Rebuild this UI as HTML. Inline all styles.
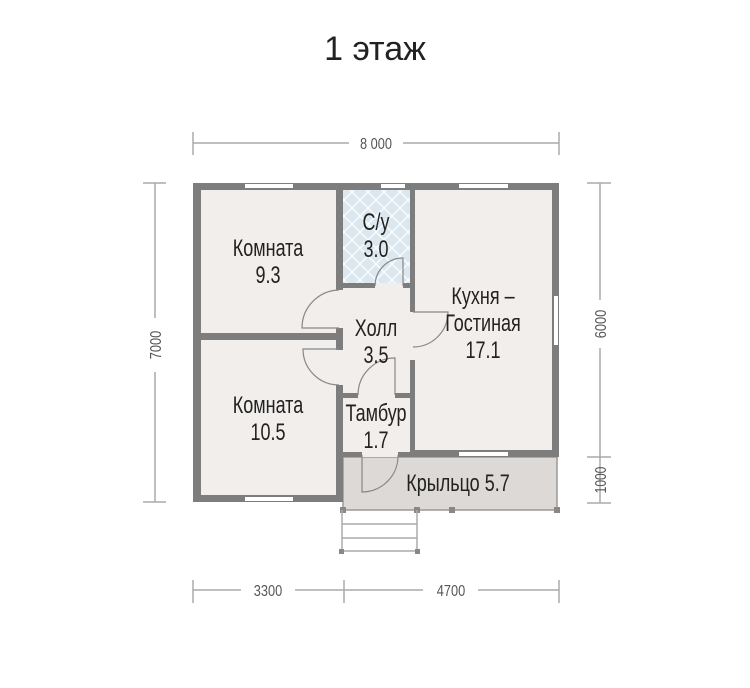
<!DOCTYPE html>
<html><head><meta charset="utf-8"><style>
html,body{margin:0;padding:0;background:#fff;}
svg{display:block}
text{font-family:"Liberation Sans",sans-serif;}
</style></head><body>
<svg width="750" height="688" viewBox="0 0 750 688" xmlns="http://www.w3.org/2000/svg">
<defs>
<pattern id="tile" width="16" height="16" patternUnits="userSpaceOnUse">
<rect width="16" height="16" fill="#dce8f0"/>
<path d="M0 0L16 16M16 0L0 16" stroke="#fff" stroke-width="1.2"/>
</pattern>
</defs>
<text x="375" y="60" font-size="34" text-anchor="middle" fill="#222">1 этаж</text>

<!-- dimensions -->
<g stroke="#aaa" stroke-width="1.5" fill="none">
<line x1="193" y1="143" x2="349" y2="143"/><line x1="403" y1="143" x2="559" y2="143"/>
<line x1="193" y1="132" x2="193" y2="155"/><line x1="559" y1="132" x2="559" y2="155"/>
<line x1="155" y1="183" x2="155" y2="318"/><line x1="155" y1="372" x2="155" y2="502"/>
<line x1="143" y1="183" x2="166" y2="183"/><line x1="143" y1="502" x2="166" y2="502"/>
<line x1="600" y1="183" x2="600" y2="300"/><line x1="600" y1="348" x2="600" y2="503"/>
<line x1="587" y1="183" x2="611" y2="183"/><line x1="587" y1="457" x2="611" y2="457"/><line x1="587" y1="503" x2="611" y2="503"/>
<line x1="193" y1="590" x2="241" y2="590"/><line x1="295" y1="590" x2="423" y2="590"/><line x1="478" y1="590" x2="559" y2="590"/>
<line x1="193" y1="580" x2="193" y2="603"/><line x1="344" y1="580" x2="344" y2="603"/><line x1="559" y1="580" x2="559" y2="603"/>
</g>
<g font-size="16" fill="#555" text-anchor="middle">
<g transform="translate(376,149) scale(0.8,1)"><text>8 000</text></g>
<g transform="translate(268,596) scale(0.8,1)"><text>3300</text></g>
<g transform="translate(451,596) scale(0.8,1)"><text>4700</text></g>
<g transform="translate(161,345) rotate(-90) scale(0.8,1)"><text>7000</text></g>
<g transform="translate(606,324) rotate(-90) scale(0.8,1)"><text>6000</text></g>
<g transform="translate(606,480) rotate(-90) scale(0.75,1)"><text>1000</text></g>
</g>

<!-- porch -->
<rect x="343" y="457" width="214" height="53" fill="#dcd9d6" stroke="#999" stroke-width="1.5"/>
<g fill="#888"><rect x="340" y="507" width="6" height="6"/><rect x="414" y="507" width="6" height="6"/><rect x="449" y="507" width="6" height="6"/><rect x="554" y="507" width="6" height="6"/></g>
<g stroke="#aaa" stroke-width="1.5"><line x1="342" y1="510" x2="342" y2="552"/><line x1="417" y1="510" x2="417" y2="552"/>
<line x1="342" y1="524" x2="417" y2="524"/><line x1="342" y1="538" x2="417" y2="538"/><line x1="342" y1="551" x2="417" y2="551"/></g>
<g fill="#888"><rect x="339" y="549" width="5" height="5"/><rect x="415" y="549" width="5" height="5"/></g>

<!-- room fills -->
<rect x="193" y="183" width="366" height="274" fill="#f1eeec"/>
<rect x="193" y="183" width="150" height="319" fill="#f1eeec"/>
<rect x="343" y="190" width="67" height="93" fill="url(#tile)"/>

<!-- walls -->
<g fill="#7d7d7d">
<rect x="193" y="183" width="366" height="7"/>
<rect x="193" y="183" width="8" height="319"/>
<rect x="552" y="183" width="7" height="274"/>
<rect x="193" y="495" width="150" height="7"/>
<rect x="336" y="183" width="7" height="107"/>
<rect x="336" y="328" width="7" height="22"/>
<rect x="336" y="385" width="7" height="117"/>
<rect x="193" y="333" width="150" height="7"/>
<rect x="410" y="183" width="5" height="129"/>
<rect x="410" y="360" width="5" height="97"/>
<rect x="343" y="283" width="32" height="5"/>
<rect x="403" y="283" width="10" height="5"/>
<rect x="343" y="393" width="15" height="5"/>
<rect x="395" y="393" width="18" height="5"/>
<rect x="410" y="450" width="149" height="7"/>
<rect x="336" y="452" width="26" height="5"/>
<rect x="398" y="452" width="14" height="5"/>
</g>
<!-- windows -->
<g fill="#fff">
<rect x="245" y="184" width="48" height="4"/>
<rect x="381" y="184" width="24" height="4"/>
<rect x="459" y="184" width="49" height="4"/>
<rect x="554" y="296" width="4" height="49"/>
<rect x="245" y="497" width="48" height="4"/>
<rect x="459" y="452" width="49" height="4"/>
</g>
<!-- doors -->
<g stroke="#888" stroke-width="1.2" fill="none">
<path d="M339 290 A38 38 0 0 0 302 328 L339 328"/>
<path d="M339 349 L303 349 A36 36 0 0 0 339 385"/>
<path d="M375 286 A28 28 0 0 1 403 258 L403 286"/>
<path d="M413 312 L448 312 A35 35 0 0 1 413 347"/>
<path d="M358 395 A37 37 0 0 1 395 358 L395 395"/>
<path d="M362 455 L362 492 A36 36 0 0 0 398 455"/>
</g>

<!-- labels -->
<g font-size="24" fill="#222" text-anchor="middle">
<g transform="translate(268,256) scale(0.75,1)"><text>Комната</text></g>
<g transform="translate(268,283) scale(0.75,1)"><text>9.3</text></g>
<g transform="translate(376,230) scale(0.75,1)"><text>С/у</text></g>
<g transform="translate(376,257) scale(0.75,1)"><text>3.0</text></g>
<g transform="translate(483,304) scale(0.75,1)"><text>Кухня –</text></g>
<g transform="translate(483,331) scale(0.75,1)"><text>Гостиная</text></g>
<g transform="translate(483,358) scale(0.75,1)"><text>17.1</text></g>
<g transform="translate(376,336) scale(0.75,1)"><text>Холл</text></g>
<g transform="translate(376,363) scale(0.75,1)"><text>3.5</text></g>
<g transform="translate(268,413) scale(0.75,1)"><text>Комната</text></g>
<g transform="translate(268,440) scale(0.75,1)"><text>10.5</text></g>
<g transform="translate(376,421) scale(0.75,1)"><text>Тамбур</text></g>
<g transform="translate(376,448) scale(0.75,1)"><text>1.7</text></g>
<g transform="translate(458,491) scale(0.75,1)"><text>Крыльцо 5.7</text></g>
</g>
</svg>
</body></html>
